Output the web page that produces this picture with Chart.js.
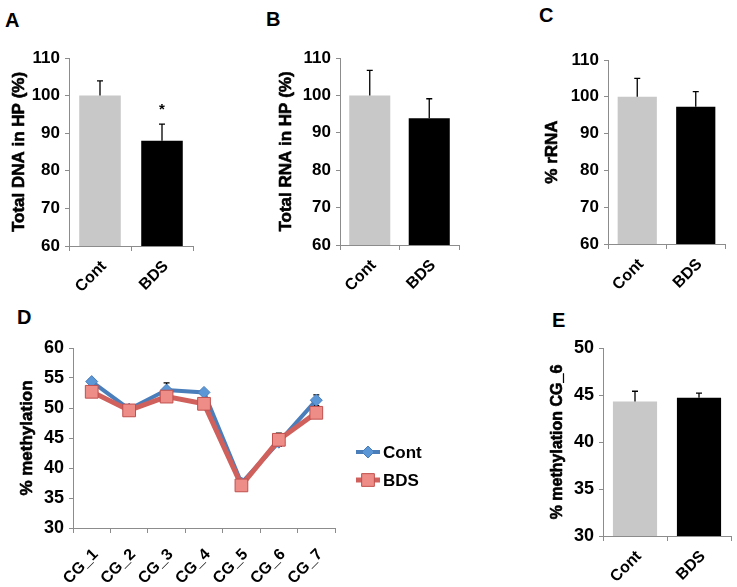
<!DOCTYPE html>
<html><head><meta charset="utf-8">
<script src="https://cdn.jsdelivr.net/npm/chart.js@4/dist/chart.umd.min.js"></script>
<style>
html,body{margin:0;padding:0;background:#fff;}
#wrap{position:relative;width:737px;height:587px;overflow:hidden;font-family:"Liberation Sans",Arial,sans-serif;}
#wrap canvas{position:absolute;}
.lab{position:absolute;font-weight:bold;font-size:20px;line-height:20px;color:#000;}
</style></head><body>
<div id="wrap">
  <div class="lab" style="left:5px;top:10px">A</div>
  <div class="lab" style="left:266px;top:9px">B</div>
  <div class="lab" style="left:539px;top:5px">C</div>
  <div class="lab" style="left:17px;top:307px">D</div>
  <div class="lab" style="left:552px;top:310px">E</div>
  <canvas id="cA"></canvas>
  <canvas id="cB"></canvas>
  <canvas id="cC"></canvas>
  <canvas id="cD"></canvas>
  <canvas id="cE"></canvas>
</div>
<script>
// ---------- data ----------
const groups = ['Cont', 'BDS'];
const dnaValues = [100, 88.0];
const dnaErrors = [3.9, 4.4];
const dnaSig = ['', '*'];
const rnaValues = [100, 93.9];
const rnaErrors = [6.7, 5.2];
const rrnaValues = [100, 97.3];
const rrnaErrors = [5.0, 4.1];
const cgSites = ['CG_1', 'CG_2', 'CG_3', 'CG_4', 'CG_5', 'CG_6', 'CG_7'];
const contMeth = [54.4, 49.8, 53.0, 52.6, 37.5, 44.3, 51.3];
const contMethErr = [0.4, 0.3, 1.2, 0.3, 0.3, 0.6, 0.9];
const bdsMeth = [52.7, 49.6, 51.9, 50.7, 37.1, 44.7, 49.2];
const bdsMethErr = [0.8, 0.4, 0.5, 0.5, 0.4, 1.1, 0.6];
const cg6Values = [44.3, 44.7];
const cg6Errors = [1.1, 0.5];

// ---------- styles ----------
const FAMILY = '"Liberation Sans", Arial, sans-serif';
Chart.defaults.font.family = FAMILY;
Chart.defaults.font.weight = 'bold';
Chart.defaults.color = '#000';
const barColors = ['#c8c8c8', '#000000'];
const axisGray = '#8c8c8c';

const errorBarPlugin = {
  id: 'errorBars',
  beforeDatasetsDraw(chart, args, opts) { if (opts.layer === 'below') draw(chart, opts); },
  afterDatasetsDraw(chart, args, opts) { if (opts.layer !== 'below') draw(chart, opts); }
};
function draw(chart, opts) {
  const ctx = chart.ctx;
  const ys = chart.scales.y;
  ctx.save();
  ctx.strokeStyle = '#000';
  ctx.lineWidth = 1.3;
  chart.data.datasets.forEach((ds, di) => {
    if (!ds.errors) return;
    const meta = chart.getDatasetMeta(di);
    meta.data.forEach((el, i) => {
      const v = ds.data[i], e = ds.errors[i];
      const x = el.x;
      const yTop = ys.getPixelForValue(v + e);
      const yMid = ys.getPixelForValue(v);
      const yBot = opts.both ? ys.getPixelForValue(v - e) : yMid;
      const c = opts.cap || 3;
      ctx.beginPath();
      ctx.moveTo(x, yBot); ctx.lineTo(x, yTop);
      ctx.moveTo(x - c, yTop); ctx.lineTo(x + c, yTop);
      if (opts.both) { ctx.moveTo(x - c, yBot); ctx.lineTo(x + c, yBot); }
      ctx.stroke();
      if (ds.sig && ds.sig[i]) {
        ctx.fillStyle = '#000';
        ctx.font = 'bold 15px ' + FAMILY;
        ctx.textAlign = 'center';
        ctx.textBaseline = 'middle';
        ctx.fillText(ds.sig[i], x, yTop - 14);
      }
    });
  });
  ctx.restore();
}

// bold rotated y-axis title
const yTitlePlugin = {
  id: 'yTitle',
  afterDraw(chart, args, opts) {
    if (!opts.text) return;
    const ctx = chart.ctx, a = chart.chartArea;
    ctx.save();
    ctx.translate(opts.x, (a.top + a.bottom) / 2);
    ctx.rotate(-Math.PI / 2);
    ctx.fillStyle = '#000';
    ctx.strokeStyle = '#000';
    ctx.lineWidth = 0.6;
    ctx.lineJoin = 'round';
    ctx.font = 'bold ' + opts.size + 'px ' + FAMILY;
    ctx.textAlign = 'center';
    ctx.textBaseline = 'middle';
    ctx.fillText(opts.text, 0, 0);
    ctx.strokeText(opts.text, 0, 0);
    ctx.restore();
  }
};

const lineLegendPlugin = {
  id: 'lineLegend',
  afterDraw(chart, args, opts) {
    if (!opts.show) return;
    const ctx = chart.ctx, a = chart.chartArea;
    const x0 = a.right + opts.dx;
    chart.data.datasets.forEach((ds, i) => {
      const y = a.top + opts.dy + i * opts.gap;
      ctx.save();
      ctx.strokeStyle = ds.borderColor; ctx.lineWidth = ds.borderWidth;
      ctx.beginPath(); ctx.moveTo(x0, y); ctx.lineTo(x0 + 24, y); ctx.stroke();
      const cx = x0 + 12, r = ds.pointRadius;
      ctx.fillStyle = ds.pointBackgroundColor; ctx.strokeStyle = ds.pointBorderColor; ctx.lineWidth = 1;
      ctx.beginPath();
      if (ds.pointStyle === 'rectRot') {
        ctx.moveTo(cx - r, y); ctx.lineTo(cx, y - r); ctx.lineTo(cx + r, y); ctx.lineTo(cx, y + r); ctx.closePath();
      } else {
        const s = r * Math.SQRT1_2; ctx.rect(cx - s, y - s, 2 * s, 2 * s);
      }
      ctx.fill(); ctx.stroke();
      ctx.fillStyle = '#000'; ctx.font = 'bold 17px ' + FAMILY;
      ctx.textAlign = 'left'; ctx.textBaseline = 'middle';
      ctx.fillText(ds.label, x0 + 27, y + 1);
      ctx.restore();
    });
  }
};

function setup(id, box) {
  const c = document.getElementById(id);
  c.width = box.w; c.height = box.h;
  c.style.left = box.left + 'px'; c.style.top = box.top + 'px';
  c.style.width = box.w + 'px'; c.style.height = box.h + 'px';
  return c;
}

function axes(box, area, o) {
  const yW = area.l - box.left;
  const xH = box.top + box.h - area.b;
  return {
    x: {
      type: 'category',
      offset: true,
      grid: { display: true, drawOnChartArea: false, offset: true, tickLength: 5, color: axisGray, lineWidth: 1 },
      border: { display: true, color: axisGray, width: 1 },
      ticks: { minRotation: 45, maxRotation: 45, autoSkip: false, padding: o.xPad || 6, labelOffset: o.xOff || 4,
               color: '#000', font: { family: FAMILY, size: o.xSize || 16, weight: 'bold' } },
      afterFit: s => { s.height = xH; }
    },
    y: {
      min: o.min, max: o.max,
      grid: { display: true, drawOnChartArea: false, tickLength: 4, color: axisGray, lineWidth: 1 },
      border: { display: true, color: axisGray, width: 1 },
      ticks: { stepSize: o.step, padding: 5, color: '#000',
               font: { family: FAMILY, size: o.ySize || 17, weight: 'bold' } },
      title: { display: false },
      afterFit: s => { s.width = yW; }
    }
  };
}

function titleOpts(box, o) {
  return { text: o.title, size: o.titleSize, x: o.titleCx - box.left };
}

function barChart(id, box, area, values, errors, sig, o) {
  const c = setup(id, box);
  new Chart(c, {
    type: 'bar',
    data: { labels: groups, datasets: [{ data: values, errors: errors, sig: sig,
      backgroundColor: barColors, barPercentage: o.barPct || 0.67, categoryPercentage: 1 }] },
    options: {
      responsive: false, animation: false, devicePixelRatio: 1,
      layout: { padding: { left: 0, top: area.t - box.top, right: box.left + box.w - area.r, bottom: 0 } },
      scales: axes(box, area, o),
      plugins: { legend: { display: false }, tooltip: { enabled: false },
                 errorBars: { layer: 'above', both: false, cap: 3 },
                 yTitle: titleOpts(box, o) }
    },
    plugins: [errorBarPlugin, yTitlePlugin]
  });
}

barChart('cA', { left: 0, top: 30, w: 215, h: 270 }, { l: 69, t: 58, r: 193, b: 246 },
  dnaValues, dnaErrors, dnaSig,
  { min: 60, max: 110, step: 10, title: 'Total DNA in HP (%)', titleSize: 17, titleCx: 19 });
barChart('cB', { left: 240, top: 30, w: 235, h: 270 }, { l: 340, t: 58, r: 459, b: 245 },
  rnaValues, rnaErrors, null,
  { min: 60, max: 110, step: 10, title: 'Total RNA in HP (%)', titleSize: 17, titleCx: 286, barPct: 0.69 });
barChart('cC', { left: 480, top: 30, w: 257, h: 270 }, { l: 608, t: 60, r: 725, b: 244 },
  rrnaValues, rrnaErrors, null,
  { min: 60, max: 110, step: 10, title: '% rRNA', titleSize: 17, titleCx: 552 });
barChart('cE', { left: 480, top: 330, w: 257, h: 257 }, { l: 603, t: 348, r: 731, b: 536 },
  cg6Values, cg6Errors, null,
  { min: 30, max: 50, step: 5, title: '% methylation CG_6', titleSize: 16, titleCx: 558, ySize: 18, barPct: 0.69 });

// Panel D line chart
(function () {
  const box = { left: 0, top: 330, w: 470, h: 257 };
  const area = { l: 73, t: 348, r: 335, b: 528 };
  const o = { min: 30, max: 60, step: 5, title: '% methylation', titleSize: 17, titleCx: 27, ySize: 18, xPad: 12, xOff: 4 };
  const c = setup('cD', box);
  new Chart(c, {
    type: 'line',
    data: {
      labels: cgSites,
      datasets: [
        { label: 'Cont', data: contMeth, errors: contMethErr, order: 1,
          borderColor: '#4a7ebb', borderWidth: 4, tension: 0,
          pointStyle: 'rectRot', pointRadius: 6, pointBackgroundColor: '#5b96d6',
          pointBorderColor: '#4a7ebb', pointBorderWidth: 1 },
        { label: 'BDS', data: bdsMeth, errors: bdsMethErr, order: 0,
          borderColor: '#d0605c', borderWidth: 5, tension: 0,
          pointStyle: 'rect', pointRadius: 9, pointBackgroundColor: '#ee8c87',
          pointBorderColor: '#c0504d', pointBorderWidth: 1 }
      ]
    },
    options: {
      responsive: false, animation: false, devicePixelRatio: 1,
      layout: { padding: { left: 0, top: area.t - box.top, right: box.left + box.w - area.r, bottom: 0 } },
      scales: axes(box, area, o),
      plugins: { legend: { display: false }, tooltip: { enabled: false },
                 errorBars: { layer: 'below', both: true, cap: 3 },
                 yTitle: titleOpts(box, o),
                 lineLegend: { show: true, dx: 21, dy: 104, gap: 28 } }
    },
    plugins: [errorBarPlugin, yTitlePlugin, lineLegendPlugin]
  });
})();
</script>
</body></html>
